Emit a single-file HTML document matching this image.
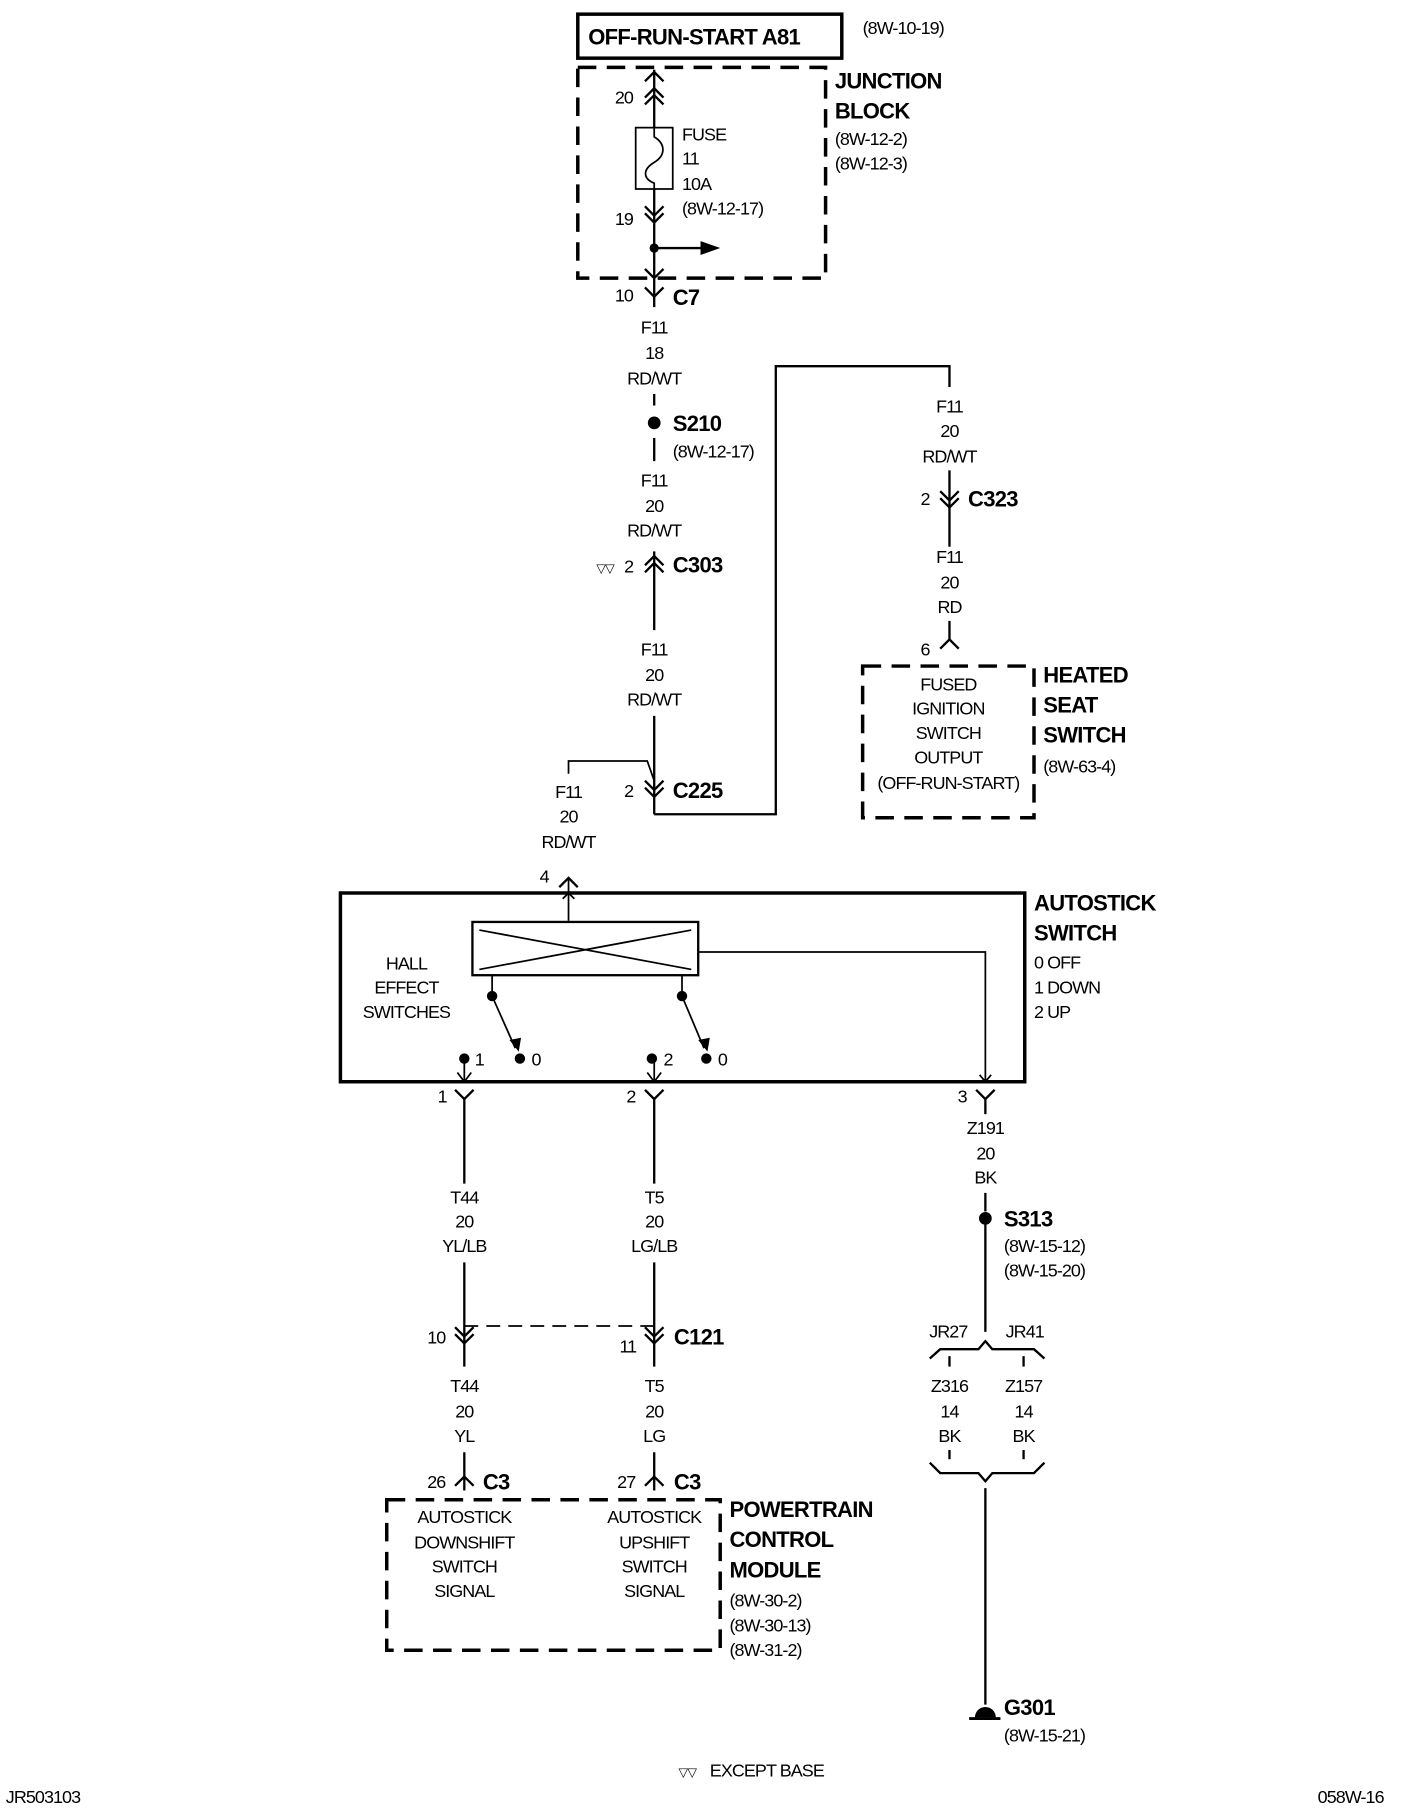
<!DOCTYPE html>
<html><head><meta charset="utf-8"><style>
html,body{margin:0;padding:0;background:#fff;}
svg{display:block;}
text{font-family:"Liberation Sans",sans-serif;font-size:15.5px;letter-spacing:-0.8px;fill:#000;}
.b{font-family:"Liberation Sans",sans-serif;font-weight:bold;font-size:19px;letter-spacing:-0.6px;}
.c{text-anchor:middle;}
</style></head><body>
<svg width="1408" height="1808" viewBox="0 0 1216 1561" xmlns="http://www.w3.org/2000/svg">
<g stroke="#000" fill="none" stroke-width="2">
<rect x="499" y="12" width="228" height="38" stroke-width="3"/>
<rect x="499" y="58" width="214" height="182" stroke-width="3" stroke-dasharray="16,9"/>
<line x1="565" y1="60" x2="565" y2="110"/>
<polyline points="557,70 565,62 573,70"/>
<polyline points="557,84 565,76 573,84"/>
<polyline points="557,90 565,82 573,90"/>
<rect x="549" y="110" width="32" height="53" stroke-width="1.5"/>
<path d="M565,110 L565,118 C575,124 575,134 565,140 C555,146 555,154 565,158 L565,163" stroke-width="1.5"/>
<line x1="565" y1="163" x2="565" y2="265"/>
<polyline points="557,178 565,186 573,178"/>
<polyline points="557,184 565,192 573,184"/>
<polyline points="557,232 565,240 573,232"/>
<line x1="565" y1="214" x2="605" y2="214"/>
<polyline points="557,248 565,256 573,248"/>
<line x1="565" y1="340" x2="565" y2="350" />
<line x1="565" y1="378" x2="565" y2="398"/>
<line x1="565" y1="476" x2="565" y2="544"/>
<polyline points="557,488 565,480 573,488"/>
<polyline points="557,494 565,486 573,494"/>
<line x1="565" y1="618" x2="565" y2="703"/>
<polyline points="557,674 565,682 573,674"/>
<polyline points="557,680 565,688 573,680"/>
<polyline points="491,668 491,657 559,657 565,674" stroke-width="1.5"/>
<polyline points="565,703 670,703 670,316 820,316 820,334"/>
<line x1="820" y1="406" x2="820" y2="472"/>
<polyline points="812,424 820,432 828,424"/>
<polyline points="812,430 820,438 828,430"/>
<line x1="820" y1="536" x2="820" y2="552"/>
<polyline points="812,560 820,552 828,560"/>
<rect x="745" y="575" width="148" height="131" stroke-width="3" stroke-dasharray="16,9"/>
<polyline points="483,766 491,758 499,766"/>
<line x1="491" y1="758" x2="491" y2="795" stroke-width="1.5"/>
<polyline points="486,776 491,771 496,776" stroke-width="1.5"/>
<rect x="294" y="771" width="591" height="163" stroke-width="3"/>
<rect x="408" y="796" width="195" height="46" stroke-width="2"/>
<line x1="414" y1="803" x2="597" y2="837" stroke-width="1.5"/>
<line x1="414" y1="837" x2="597" y2="803" stroke-width="1.5"/>
<polyline points="603,822 851,822 851,934" stroke-width="1.5"/>
<polyline points="846,928 851,934 856,928" stroke-width="1.5"/>
<line x1="425" y1="842" x2="425" y2="858" stroke-width="1.5"/>
<line x1="425" y1="860" x2="445" y2="905" stroke-width="1.5"/>
<line x1="589" y1="842" x2="589" y2="858" stroke-width="1.5"/>
<line x1="589" y1="860" x2="608" y2="905" stroke-width="1.5"/>
<line x1="401" y1="914" x2="401" y2="934" stroke-width="1.5"/>
<polyline points="395,926 401,934 407,926" stroke-width="1.5"/>
<line x1="565" y1="914" x2="565" y2="934" stroke-width="1.5"/>
<polyline points="559,926 565,934 571,926" stroke-width="1.5"/>
<polyline points="393,941 401,949 409,941"/>
<line x1="401" y1="949" x2="401" y2="1022"/>
<polyline points="557,941 565,949 573,941"/>
<line x1="565" y1="949" x2="565" y2="1022"/>
<polyline points="843,941 851,949 859,941"/>
<line x1="851" y1="949" x2="851" y2="962"/>
<line x1="401" y1="1090" x2="401" y2="1180"/>
<line x1="565" y1="1090" x2="565" y2="1180"/>
<line x1="401" y1="1145" x2="565" y2="1145" stroke-width="1.5" stroke-dasharray="12,7"/>
<polyline points="393,1146 401,1154 409,1146"/>
<polyline points="393,1152 401,1160 409,1152"/>
<polyline points="557,1146 565,1154 573,1146"/>
<polyline points="557,1152 565,1160 573,1152"/>
<line x1="401" y1="1254" x2="401" y2="1287"/>
<polyline points="393,1283 401,1275 409,1283"/>
<line x1="565" y1="1254" x2="565" y2="1287"/>
<polyline points="557,1283 565,1275 573,1283"/>
<rect x="334" y="1295" width="288" height="130" stroke-width="3" stroke-dasharray="16,9"/>
<line x1="851" y1="1030" x2="851" y2="1046"/>
<line x1="851" y1="1052" x2="851" y2="1150"/>
<polyline points="803,1173 812,1165 845,1165 851,1158 857,1165 893,1165 902,1173"/>
<line x1="820" y1="1171" x2="820" y2="1180"/>
<line x1="884" y1="1171" x2="884" y2="1180"/>
<line x1="820" y1="1252" x2="820" y2="1260"/>
<line x1="884" y1="1252" x2="884" y2="1260"/>
<polyline points="803,1263 812,1272 845,1272 851,1279 857,1272 893,1272 902,1263"/>
<line x1="851" y1="1285" x2="851" y2="1472"/>
<line x1="837" y1="1484" x2="864" y2="1484" stroke-width="2.5"/>
</g>
<g fill="#000">
<polygon points="605,208 622,214 605,220"/>
<circle cx="565" cy="214" r="4"/>
<circle cx="565" cy="365" r="5.5"/>
<circle cx="425" cy="860" r="4.5"/>
<circle cx="589" cy="860" r="4.5"/>
<polygon points="440,898 448,908 450,896"/>
<polygon points="603,898 611,908 613,896"/>
<circle cx="449" cy="914" r="4.5"/>
<circle cx="610" cy="914" r="4.5"/>
<circle cx="401" cy="914" r="4.5"/>
<circle cx="563" cy="914" r="4.5"/>
<circle cx="851" cy="1052" r="5.5"/>
<path d="M842,1483 A9,9 0 0 1 860,1483 Z"/>
</g>
<text class="b" x="508" y="38">OFF-RUN-START A81</text>
<text x="745" y="29">(8W-10-19)</text>
<text class="b" x="721" y="76">JUNCTION</text>
<text class="b" x="721" y="102">BLOCK</text>
<text x="721" y="125">(8W-12-2)</text>
<text x="721" y="146">(8W-12-3)</text>
<text x="531" y="89">20</text>
<text x="589" y="121">FUSE</text>
<text x="589" y="142">11</text>
<text x="589" y="164">10A</text>
<text x="589" y="185">(8W-12-17)</text>
<text x="531" y="194">19</text>
<text x="531" y="260">10</text>
<text class="b" x="581" y="263">C7</text>
<text x="565" y="288" class="c">F11</text><text x="565" y="310" class="c">18</text><text x="565" y="332" class="c">RD/WT</text>
<text class="b" x="581" y="372">S210</text>
<text x="581" y="395">(8W-12-17)</text>
<text x="565" y="420" class="c">F11</text><text x="565" y="442" class="c">20</text><text x="565" y="463" class="c">RD/WT</text>
<text x="515" y="494" style="font-size:11px">▽▽</text>
<text x="539" y="494">2</text>
<text class="b" x="581" y="494">C303</text>
<text x="565" y="566" class="c">F11</text><text x="565" y="588" class="c">20</text><text x="565" y="609" class="c">RD/WT</text>
<text x="539" y="688">2</text>
<text class="b" x="581" y="689">C225</text>
<text x="491" y="689" class="c">F11</text><text x="491" y="710" class="c">20</text><text x="491" y="732" class="c">RD/WT</text>
<text x="820" y="356" class="c">F11</text><text x="820" y="377" class="c">20</text><text x="820" y="399" class="c">RD/WT</text>
<text x="795" y="436">2</text>
<text class="b" x="836" y="437">C323</text>
<rect x="805" y="474" width="30" height="60" fill="#fff"/>
<text x="820" y="486" class="c">F11</text><text x="820" y="508" class="c">20</text><text x="820" y="529" class="c">RD</text>
<text x="795" y="566">6</text>
<text x="819" y="596" class="c">FUSED</text>
<text x="819" y="617" class="c">IGNITION</text>
<text x="819" y="638" class="c">SWITCH</text>
<text x="819" y="659" class="c">OUTPUT</text>
<text x="819" y="681" class="c">(OFF-RUN-START)</text>
<text class="b" x="901" y="589">HEATED</text>
<text class="b" x="901" y="615">SEAT</text>
<text class="b" x="901" y="641">SWITCH</text>
<text x="901" y="667">(8W-63-4)</text>
<text x="466" y="762">4</text>
<text class="b" x="893" y="786">AUTOSTICK</text>
<text class="b" x="893" y="812">SWITCH</text>
<text x="893" y="836">0 OFF</text>
<text x="893" y="858">1 DOWN</text>
<text x="893" y="879">2 UP</text>
<text x="351" y="837" class="c">HALL</text>
<text x="351" y="858" class="c">EFFECT</text>
<text x="351" y="879" class="c">SWITCHES</text>
<text x="410" y="920">1</text>
<text x="459" y="920">0</text>
<text x="573" y="920">2</text>
<text x="620" y="920">0</text>
<text x="378" y="952">1</text>
<text x="541" y="952">2</text>
<text x="827" y="952">3</text>
<text x="401" y="1039" class="c">T44</text><text x="401" y="1060" class="c">20</text><text x="401" y="1081" class="c">YL/LB</text>
<text x="565" y="1039" class="c">T5</text><text x="565" y="1060" class="c">20</text><text x="565" y="1081" class="c">LG/LB</text>
<text x="369" y="1160">10</text>
<text x="535" y="1168">11</text>
<text class="b" x="582" y="1161">C121</text>
<text x="401" y="1202" class="c">T44</text><text x="401" y="1224" class="c">20</text><text x="401" y="1245" class="c">YL</text>
<text x="565" y="1202" class="c">T5</text><text x="565" y="1224" class="c">20</text><text x="565" y="1245" class="c">LG</text>
<text x="369" y="1285">26</text>
<text class="b" x="417" y="1286">C3</text>
<text x="533" y="1285">27</text>
<text class="b" x="582" y="1286">C3</text>
<text x="401" y="1315" class="c">AUTOSTICK</text><text x="401" y="1337" class="c">DOWNSHIFT</text><text x="401" y="1358" class="c">SWITCH</text><text x="401" y="1379" class="c">SIGNAL</text>
<text x="565" y="1315" class="c">AUTOSTICK</text><text x="565" y="1337" class="c">UPSHIFT</text><text x="565" y="1358" class="c">SWITCH</text><text x="565" y="1379" class="c">SIGNAL</text>
<text class="b" x="630" y="1310">POWERTRAIN</text>
<text class="b" x="630" y="1336">CONTROL</text>
<text class="b" x="630" y="1362">MODULE</text>
<text x="630" y="1387">(8W-30-2)</text>
<text x="630" y="1409">(8W-30-13)</text>
<text x="630" y="1430">(8W-31-2)</text>
<text x="851" y="979" class="c">Z191</text><text x="851" y="1001" class="c">20</text><text x="851" y="1022" class="c">BK</text>
<text class="b" x="867" y="1059">S313</text>
<text x="867" y="1081">(8W-15-12)</text>
<text x="867" y="1102">(8W-15-20)</text>
<text x="819" y="1155" class="c">JR27</text>
<text x="885" y="1155" class="c">JR41</text>
<text x="820" y="1202" class="c">Z316</text><text x="820" y="1224" class="c">14</text><text x="820" y="1245" class="c">BK</text>
<text x="884" y="1202" class="c">Z157</text><text x="884" y="1224" class="c">14</text><text x="884" y="1245" class="c">BK</text>
<text class="b" x="867" y="1481">G301</text>
<text x="867" y="1504">(8W-15-21)</text>
<text x="586" y="1534" style="font-size:11px">▽▽</text>
<text x="613" y="1534">EXCEPT BASE</text>
<text x="5" y="1557">JR503103</text>
<text x="1138" y="1557">058W-16</text>
</svg>
</body></html>
